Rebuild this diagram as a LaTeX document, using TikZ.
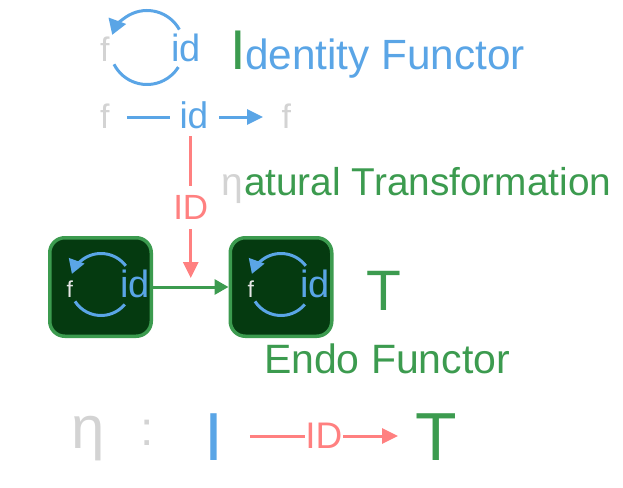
\documentclass[tikz,border=0pt]{standalone}
\usepackage{fontspec}
\setmainfont{Liberation Sans}
\usetikzlibrary{arrows.meta,calc}
\definecolor{cblue}{HTML}{5AA5E6}
\definecolor{cgreen}{HTML}{3C9B4F}
\definecolor{cgray}{HTML}{D3D3D3}
\definecolor{cboxf}{HTML}{E6E6E6}
\definecolor{cred}{HTML}{FF8080}
\definecolor{cdark}{HTML}{053A10}
\newcommand{\fsz}[1]{\fontsize{#1}{#1}\selectfont}
\begin{document}
\begin{tikzpicture}[x=1pt,y=1pt,
  txt/.style={inner sep=0pt, outer sep=0pt, anchor=base west},
  conn/.style={line width=3pt},
  tip/.style={-{Triangle[length=16pt,width=15pt]}},
  looptip/.style={-{Triangle[length=15pt,width=18pt]}},
  smalltip/.style={-{Triangle[length=14pt,width=16pt]}},
  boxnode/.style={draw=cgreen, fill=cdark, line width=3.5pt, rounded corners=15pt,
    minimum width=101.5pt, minimum height=98.5pt, inner sep=0pt},
  row2/.style={txt, text height=22pt, text depth=0pt},
  bot/.style={txt, text height=48pt, text depth=0pt},
]
\useasboundingbox (0,0) rectangle (623,-487);

% --- top loop
\node[txt,text=cgray,font=\fsz{34}] (f1) at (100,-62) {f};
\node[txt,text=cblue,font=\fsz{38}] (id1) at (171,-62) {id};
\coordinate (c1) at (147,-47.5);
\draw[conn,cblue,looptip] ($(c1)+(29:37)$) arc[start angle=29,end angle=160,radius=37];
\draw[conn,cblue] ($(c1)+(207:37)$) arc[start angle=207,end angle=328,radius=37];

% --- Identity Functor
\node[txt,text=cgreen,font=\fsz{56}] (I1) at (230,-70) {I};
\node[txt,text=cblue,font=\fsz{42.3}] (idf) at (245,-69) {dentity Functor};

% --- row 2
\node[row2,text=cgray,font=\fsz{34}] (f2) at (100,-128) {f};
\node[row2,text=cblue,font=\fsz{37}] (id2) at (179.5,-128) {id};
\node[row2,text=cgray,font=\fsz{34}] (f3) at (281.6,-128) {f};
\draw[conn,cblue,shorten <=17.5pt,shorten >=9.5pt] (f2.east) -- (id2.west);
\draw[conn,cblue,tip,shorten <=10.7pt,shorten >=18.6pt] (id2.east) -- (f3.west);

% --- natural transformation
\node[txt,text=cgray,font=\fsz{39}] (eta1) at (221,-195) {η};
\node[txt,text=cgreen,font=\fsz{38.8}] (nat) at (244,-195) {atural Transformation};

% --- boxes
\node[boxnode] (box1) at (100.5,-287) {};
\node[boxnode] (box2) at (281,-287) {};
\coordinate (gmid) at ($(box1.east)!0.5!(box2.west)$);
\draw[conn,cgreen,-{Triangle[length=14pt,width=15pt]}] (box1.east) -- (box2.west);

% inner loops
\coordinate (c2) at (101,-284.5);
\coordinate (c3) at (281,-284.5);
\foreach \c in {c2,c3}{
  \draw[conn,cblue,smalltip] ($(\c)+(37:31)$) arc[start angle=37,end angle=160,radius=31];
  \draw[conn,cblue] ($(\c)+(213:31)$) arc[start angle=213,end angle=320,radius=31];
}
\node[txt,text=cboxf,font=\fsz{23}] (bf1) at (66.5,-297) {f};
\node[txt,text=cblue,font=\fsz{38}] (bid1) at (120.5,-297) {id};
\node[txt,text=cboxf,font=\fsz{23}] (bf2) at (247.5,-297) {f};
\node[txt,text=cblue,font=\fsz{38}] (bid2) at (300.5,-297) {id};

% red vertical arrow
\draw[conn,cred,tip,shorten <=8pt,shorten >=9pt] (id2.south -| gmid) -- (gmid)
  node[pos=0.5,fill=white,text=cred,font=\fsz{35},inner xsep=1pt,inner ysep=9pt] (idv) {ID};

% T and Endo Functor
\node[txt,text=cgreen,font=\fsz{57}] (T2) at (366,-310) {T};
\node[txt,text=cgreen,font=\fsz{41}] (endo) at (264,-373) {Endo Functor};

% --- bottom line
\node[txt,text=cgray,font=\fsz{60}] (eta2) at (71,-448) {η};
\node[txt,text=cgray,font=\fsz{48}] (colon) at (140,-445.5) {:};
\node[bot,text=cblue,font=\fsz{68}] (I3) at (204,-460) {I};
\node[bot,text=cgreen,font=\fsz{68}] (T3) at (415,-460) {T};
\draw[conn,cred,tip,shorten <=27pt,shorten >=17pt] (I3.east) -- (T3.west)
  node[pos=0.526,fill=white,text=cred,font=\fsz{37},inner xsep=0.5pt,inner ysep=2pt] (idb) {ID};
\end{tikzpicture}
\end{document}
